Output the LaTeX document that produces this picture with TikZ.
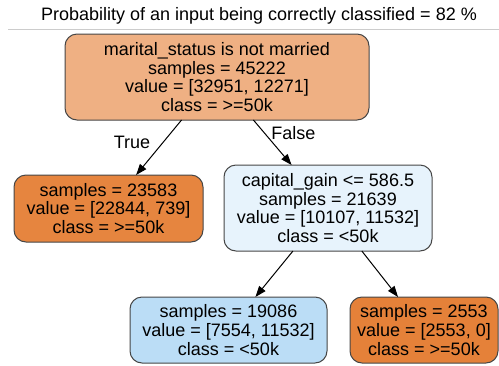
\documentclass[tikz,border=0pt]{standalone}
\usepackage{fontspec}
\setmainfont{Liberation Sans}
\usetikzlibrary{arrows.meta}
\definecolor{rootorange}{RGB}{239,176,131}
\definecolor{leaforange}{RGB}{230,133,63}
\definecolor{pureorange}{RGB}{229,129,57}
\definecolor{paleblue}{RGB}{231,243,252}
\definecolor{lightblue}{RGB}{187,221,246}
\definecolor{boxline}{RGB}{70,70,70}

\begin{document}
\begin{tikzpicture}[x=1pt, y=-1pt, line width=1pt, >={Triangle[length=11pt,width=8pt]}]
\useasboundingbox (0,0) rectangle (499,365);
\tikzstyle{every node} = [font=\fontsize{18}{18.7}\selectfont, inner sep=0pt, outer sep=0pt]
\tikzstyle{treebox} = [draw=boxline, rounded corners=12pt, align=center]
\node[anchor=base] (title) at (259,20) {Probability of an input being correctly classified = 82 \%};
\draw[black!20, line width=0.8pt] (8,29.5) -- (499,29.5);
\node[treebox, fill=rootorange, minimum width=304pt, minimum height=86pt] (root) at (217,77)
	{marital\_status is not married\\samples = 45222\\value = [32951, 12271]\\class = >=50k};
\node[treebox, fill=leaforange, minimum width=189pt, minimum height=67pt] (left) at (108.5,208.5)
	{samples = 23583\\value = [22844, 739]\\class = >=50k};
\node[treebox, fill=paleblue, minimum width=208pt, minimum height=86pt] (right) at (328,208)
	{capital\_gain <= 586.5\\samples = 21639\\value = [10107, 11532]\\class = <50k};
\node[treebox, fill=lightblue, minimum width=197pt, minimum height=66pt] (rl) at (228.5,330)
	{samples = 19086\\value = [7554, 11532]\\class = <50k};
\node[treebox, fill=pureorange, minimum width=148pt, minimum height=66pt] (rr) at (424,330)
	{samples = 2553\\value = [2553, 0]\\class = >=50k};
\node[anchor=base] (true) at (132,148) {True};
\node[anchor=base] (false) at (293.5,139) {False};
\draw[->] (root) -- (left);
\draw[->] (root) -- (right);
\draw[->] (right) -- (rl);
\draw[->] (right) -- (rr);
\end{tikzpicture}
\end{document}
